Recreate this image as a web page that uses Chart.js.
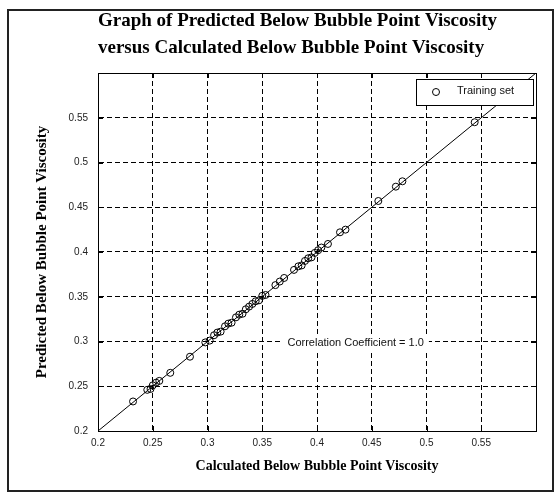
<!DOCTYPE html>
<html>
<head>
<meta charset="utf-8">
<script src="https://cdn.jsdelivr.net/npm/chart.js@4.4.1/dist/chart.umd.min.js"></script>
<style>
  body { margin: 0; background: #fff; }
</style>
</head>
<body>
<canvas id="viscChart" width="558" height="496"></canvas>
<script>
// values
const calculated = [0.232, 0.245, 0.248, 0.250, 0.253, 0.256, 0.266, 0.284, 0.298, 0.302,
  0.306, 0.309, 0.312, 0.316, 0.319, 0.322, 0.326, 0.329, 0.332, 0.335,
  0.338, 0.341, 0.344, 0.347, 0.350, 0.353, 0.362, 0.366, 0.370, 0.379,
  0.383, 0.386, 0.389, 0.392, 0.395, 0.398, 0.401, 0.404, 0.410, 0.421,
  0.426, 0.456, 0.472, 0.478, 0.544];
const predicted = [0.233, 0.246, 0.247, 0.251, 0.254, 0.256, 0.265, 0.283, 0.299, 0.301,
  0.307, 0.310, 0.311, 0.317, 0.320, 0.321, 0.327, 0.330, 0.331, 0.336,
  0.339, 0.342, 0.345, 0.346, 0.351, 0.352, 0.363, 0.367, 0.371, 0.380,
  0.384, 0.385, 0.390, 0.393, 0.394, 0.399, 0.402, 0.405, 0.409, 0.422,
  0.425, 0.457, 0.473, 0.479, 0.545];
const fitX = [0.2, 0.6];
const fitY = [0.2, 0.6];
const tickValues = [0.2, 0.25, 0.3, 0.35, 0.4, 0.45, 0.5, 0.55];
const tickLabels = ["0.2", "0.25", "0.3", "0.35", "0.4", "0.45", "0.5", "0.55"];
const legendLabel = "Training set";
const corrText = "Correlation Coefficient = 1.0";

// outer frame + inward ticks, plot box, legend, note
const extras = {
  id: "extras",
  beforeDraw(chart) {
    const c = chart.ctx;
    c.save();
    c.fillStyle = "#fff";
    c.fillRect(0, 0, chart.width, chart.height);
    c.strokeStyle = "#222";
    c.lineWidth = 2;
    c.strokeRect(8, 10, 545, 481);
    c.restore();
  },
  afterDraw(chart) {
    const c = chart.ctx;
    const a = chart.chartArea;
    const xs = chart.scales.x, ys = chart.scales.y;
    c.save();
    c.strokeStyle = "#000";
    c.lineWidth = 1;

    // correlation note (white box hides the grid behind it)
    c.font = "11px 'Liberation Sans'";
    c.textBaseline = "middle";
    c.textAlign = "left";
    const tx = xs.getPixelForValue(0.373), ty = ys.getPixelForValue(0.298);
    const tw = c.measureText(corrText).width;
    c.fillStyle = "#fff";
    c.fillRect(tx - 5, ty - 8, tw + 10, 16);
    c.fillStyle = "#111";
    c.fillText(corrText, tx, ty);

    c.beginPath();
    tickValues.forEach(v => {
      const px = Math.round(xs.getPixelForValue(v)) + 0.5;
      const py = Math.round(ys.getPixelForValue(v)) + 0.5;
      c.moveTo(px, a.bottom); c.lineTo(px, a.bottom - 5);
      c.moveTo(px, a.top); c.lineTo(px, a.top + 5);
      c.moveTo(a.left, py); c.lineTo(a.left + 5, py);
      c.moveTo(a.right, py); c.lineTo(a.right - 5, py);
    });
    c.stroke();
    c.strokeRect(Math.round(a.left) + 0.5, Math.round(a.top) + 0.5,
      Math.round(a.right - a.left), Math.round(a.bottom - a.top));

    // legend box
    const bw = 117, bh = 26;
    const bx = Math.round(a.right) - 3 - bw, by = Math.round(a.top) + 6;
    c.fillStyle = "#fff";
    c.fillRect(bx, by, bw, bh);
    c.strokeRect(bx + 0.5, by + 0.5, bw, bh);
    c.beginPath();
    c.arc(bx + 20, by + 13, 3.5, 0, Math.PI * 2);
    c.stroke();
    c.fillStyle = "#111";
    c.fillText(legendLabel, bx + 41, by + 12);
    c.restore();
  }
};

const ctx = document.getElementById("viscChart");
new Chart(ctx, {
  type: "scatter",
  data: {
    datasets: [
      {
        label: legendLabel,
        data: calculated.map((x, i) => ({ x: x, y: predicted[i] })),
        pointStyle: "circle",
        pointRadius: 3.5,
        pointBorderWidth: 1,
        borderColor: "#000",
        backgroundColor: "rgba(0,0,0,0)",
      },
      {
        type: "line",
        label: "fit",
        data: fitX.map((x, i) => ({ x: x, y: fitY[i] })),
        borderColor: "#000",
        borderWidth: 1,
        pointRadius: 0,
      }
    ]
  },
  options: {
    responsive: false,
    animation: false,
    layout: { padding: { left: 28, right: 22, top: 0, bottom: 15 } },
    plugins: {
      legend: { display: false },
      tooltip: { enabled: false },
      title: {
        display: true,
        text: ["Graph of Predicted Below Bubble Point Viscosity",
               "versus Calculated Below Bubble Point Viscosity"],
        align: "start",
        fullSize: false,
        color: "#000",
        font: { family: "'Liberation Serif'", size: 19, weight: "bold", lineHeight: 1.4 },
        padding: { top: 8, bottom: 11.8 }
      }
    },
    scales: {
      x: {
        type: "linear",
        min: 0.2,
        max: 0.6,
        afterBuildTicks: s => { s.ticks = tickValues.map(v => ({ value: v })); },
        afterFit: s => { s.height = 50; },
        ticks: {
          callback: (v, i) => tickLabels[i],
          color: "#222",
          font: { family: "'Liberation Sans'", size: 10 },
          padding: 6,
          maxRotation: 0,
        },
        grid: { color: "#000", lineWidth: 1, drawTicks: false },
        border: { display: true, color: "#000", width: 1, dash: [5, 3] },
        title: {
          display: true,
          text: "Calculated Below Bubble Point Viscosity",
          color: "#000",
          font: { family: "'Liberation Serif'", size: 14, weight: "bold", lineHeight: 1.2 },
          padding: { top: 0, bottom: 6 }
        }
      },
      y: {
        type: "linear",
        min: 0.2,
        max: 0.6,
        afterBuildTicks: s => { s.ticks = tickValues.map(v => ({ value: v })); },
        afterFit: s => { s.width = 70; },
        ticks: {
          callback: (v, i) => tickLabels[i],
          color: "#222",
          font: { family: "'Liberation Sans'", size: 10 },
          padding: 10,
        },
        grid: { color: "#000", lineWidth: 1, drawTicks: false },
        border: { display: true, color: "#000", width: 1, dash: [5, 3] },
        title: {
          display: true,
          text: "Predicted Below Bubble Point Viscosity",
          color: "#000",
          font: { family: "'Liberation Serif'", size: 15, weight: "bold", lineHeight: 1.2 },
          padding: { top: 5, bottom: 0 }
        }
      }
    }
  },
  plugins: [extras]
});
</script>
</body>
</html>
